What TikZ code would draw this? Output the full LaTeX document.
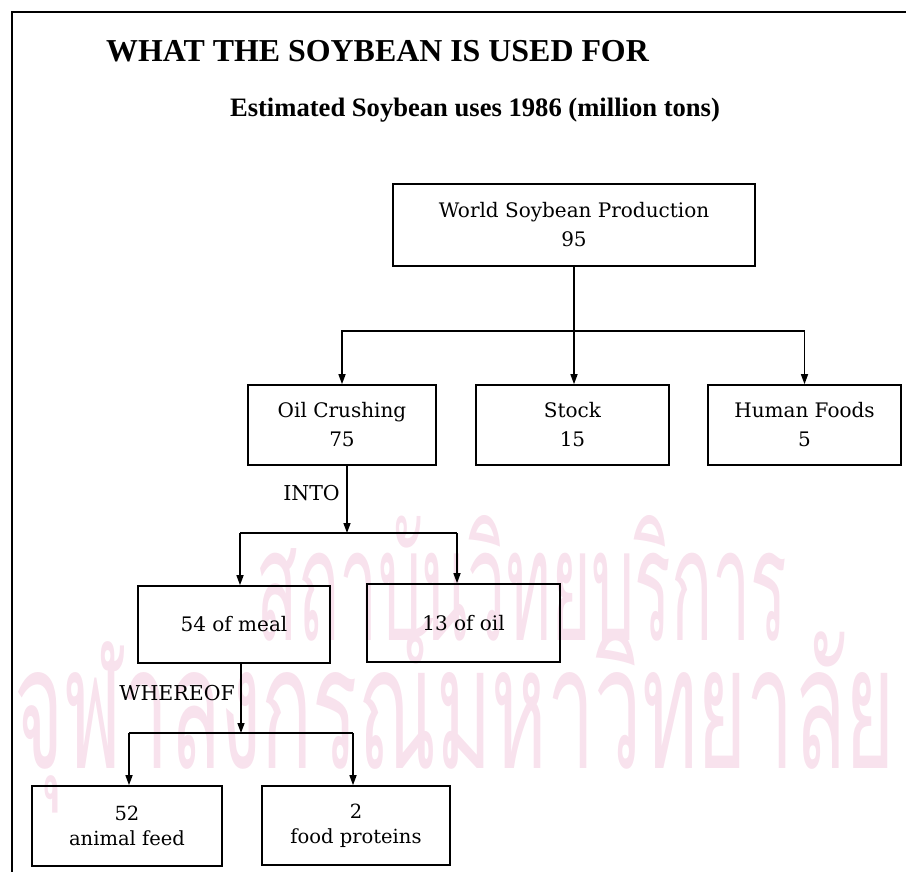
\documentclass[tikz,border=0pt]{standalone}
\usepackage{fontspec}
\setmainfont{DejaVu Serif}
\newfontfamily\titlefont{Liberation Serif}
\newfontfamily\thaifont[Script=Thai]{Loma}
\usetikzlibrary{arrows.meta}
\definecolor{wmpink}{RGB}{248,226,237}
\begin{document}
\begin{tikzpicture}[x=1pt,y=-1pt,
  box/.style={draw, line width=1.6pt, align=center, inner sep=0pt,
    font=\fontsize{20}{29}\selectfont},
  lowbox/.style={box, font=\fontsize{19.5}{25}\selectfont},
  conn/.style={line width=1.4pt},
  arr/.style={conn, -{Triangle[length=10pt,width=7pt]}},
  lbl/.style={inner sep=0pt, font=\fontsize{20.5}{24}\selectfont},
  wm/.style={inner sep=0pt, text=wmpink, anchor=base}
]
\useasboundingbox (0,0) rectangle (906,872);
% watermark
\node[wm] (wm1) at (522,640) {\resizebox{530pt}{125pt}{\thaifont สถาบันวิทยบริการ}};
\node[wm] (wm2) at (455,768) {\resizebox{880pt}{150pt}{\thaifont จุฬาลงกรณ์มหาวิทยาลัย}};
% frame
\draw[line width=1.3pt] (12,872) -- (12,12) -- (906,12);
% titles
\node[anchor=west, inner sep=0pt, font=\titlefont\bfseries\fontsize{31.9}{34}\selectfont] (title) at (106,51) {WHAT THE SOYBEAN IS USED FOR};
\node[inner sep=0pt, font=\titlefont\bfseries\fontsize{26.6}{30}\selectfont] (subtitle) at (475,110) {Estimated Soybean uses 1986 (million tons)};
% boxes
\node[box, minimum width=362pt, minimum height=82pt] (world) at (574,225) {World Soybean Production\\95};
\node[box, minimum width=188pt, minimum height=80pt] (oil) at (342,425) {Oil Crushing\\75};
\node[box, minimum width=193pt, minimum height=80pt] (stock) at (572.5,425) {Stock\\15};
\node[box, minimum width=193pt, minimum height=80pt] (human) at (804.5,425) {Human Foods\\5};
\node[box, minimum width=192pt, minimum height=77pt] (meal) at (234,624.5) {54 of meal};
\node[box, minimum width=193pt, minimum height=78pt] (oilout) at (463.5,623) {13 of oil};
\node[lowbox, minimum width=190pt, minimum height=80pt] (feed) at (127,826) {52\\animal feed};
\node[lowbox, minimum width=188pt, minimum height=79pt] (prot) at (356,825.5) {2\\food proteins};
% first split
\coordinate (b1) at (574,331);
\draw[conn] (world.south) -- (b1);
\draw[arr] (b1) -| (oil.north);
\draw[arr] (b1) -- (b1 |- stock.north);
\draw[arr] (b1) -| (human.north);
% second split
\coordinate (b2) at (347,533);
\coordinate (b2l) at (240,533);
\coordinate (b2r) at (457,533);
\draw[arr] (oil.south -| b2) -- (b2);
\draw[conn] (b2l) -- (b2r);
\draw[arr] (b2l) -- (b2l |- meal.north);
\draw[arr] (b2r) -- (b2r |- oilout.north);
\node[lbl, anchor=east] (into) at (340,493) {INTO};
% third split
\coordinate (b3) at (241,733);
\coordinate (b3l) at (129,733);
\coordinate (b3r) at (353,733);
\draw[arr] (meal.south -| b3) -- (b3);
\draw[conn] (b3l) -- (b3r);
\draw[arr] (b3l) -- (b3l |- feed.north);
\draw[arr] (b3r) -- (b3r |- prot.north);
\node[lbl, anchor=east] (whereof) at (235,693) {WHEREOF};
\end{tikzpicture}
\end{document}
